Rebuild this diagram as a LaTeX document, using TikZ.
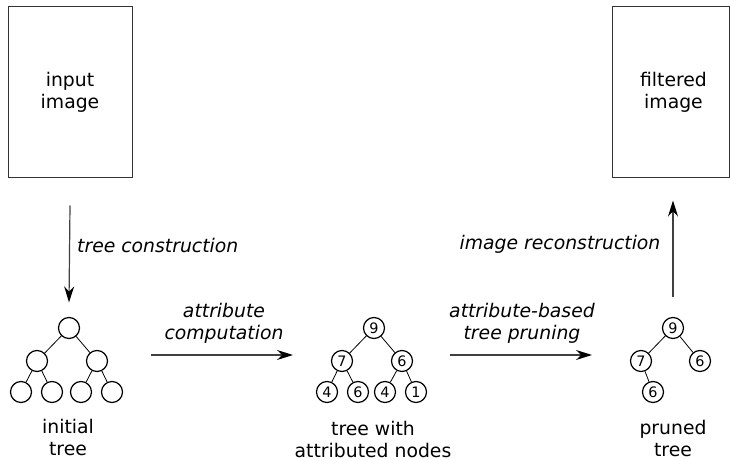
\documentclass[tikz,border=0pt]{standalone}
\usepackage{fontspec}
\setmainfont{DejaVu Sans}
\usetikzlibrary{arrows.meta,positioning}

\begin{document}
\begin{tikzpicture}[x=0.5pt, y=-0.5pt, font=\fontsize{9.4}{11}\selectfont, >={Stealth[length=8pt,width=5pt,black]},
  img/.style={draw=black!80, line width=0.5pt, minimum width=62pt, minimum height=85.5pt, align=center},
  tn/.style={draw, circle, line width=0.6pt, minimum size=10.5pt, inner sep=0pt, font=\fontsize{7.2}{8}\selectfont},
  lab/.style={align=center, inner sep=0pt},
  op/.style={font=\fontsize{9.4}{11}\selectfont\itshape, align=center, inner sep=0pt},
  flow/.style={->, draw=black!75, line width=0.6pt}]
\useasboundingbox (0,0) rectangle (730,460);

% images
\node[img] (in) at (70,92.5) {input\\image};
\node[img, minimum width=58.5pt] (out) at (670.5,92.5) {\hspace*{3pt}filtered\\\hspace*{3pt}image};

% initial tree
\node[tn] (a0) at (69,328) {};
\node[tn] (a1) at (37,361) {};
\node[tn] (a2) at (97,361) {};
\node[tn] (a3) at (21,392) {};
\node[tn] (a4) at (52,392) {};
\node[tn] (a5) at (81,392) {};
\node[tn] (a6) at (112,392) {};
\draw (a0) -- (a1) (a0) -- (a2) (a1) -- (a3) (a1) -- (a4) (a2) -- (a5) (a2) -- (a6);
\node[lab] (la) at (68,437) {initial\\tree};

% tree with attributes
\node[tn] (b0) at (374,328) {9};
\node[tn] (b1) at (342,361) {7};
\node[tn] (b2) at (402,361) {6};
\node[tn] (b3) at (327,392) {4};
\node[tn] (b4) at (358,392) {6};
\node[tn] (b5) at (385,392) {4};
\node[tn] (b6) at (416,392) {1};
\draw (b0) -- (b1) (b0) -- (b2) (b1) -- (b3) (b1) -- (b4) (b2) -- (b5) (b2) -- (b6);
\node[lab] (lb) at (373,439) {tree with\\attributed nodes};

% pruned tree
\node[tn] (c0) at (673,328) {9};
\node[tn] (c1) at (641,361) {7};
\node[tn] (c2) at (700,361) {6};
\node[tn] (c3) at (653,392) {6};
\draw (c0) -- (c1) (c0) -- (c2) (c1) -- (c3);
\node[lab] (lc) at (673,438) {pruned\\tree};

% processing steps
\coordinate (s1) at (151,355);
\coordinate (e1) at (293,355);
\coordinate (s2) at (450,355);
\coordinate (e2) at (592,355);
\draw[flow] ([yshift=-13.5pt]in.south) -- node[op, pos=0.41, right=3.5pt]{tree construction} ([yshift=7.25pt]a0.north);
\draw[flow] (s1) -- (e1);
\node[op] (o1) at (224,323.5) {attribute\\computation};
\draw[flow] (s2) -- (e2);
\node[op] (o2) at (522,323.5) {attribute-based\\tree pruning};
\draw[flow] ([yshift=10pt]c0.north) -- node[op, pos=0.55, left=6pt]{image reconstruction} ([yshift=-11pt]out.south -| c0.north);
\end{tikzpicture}
\end{document}
